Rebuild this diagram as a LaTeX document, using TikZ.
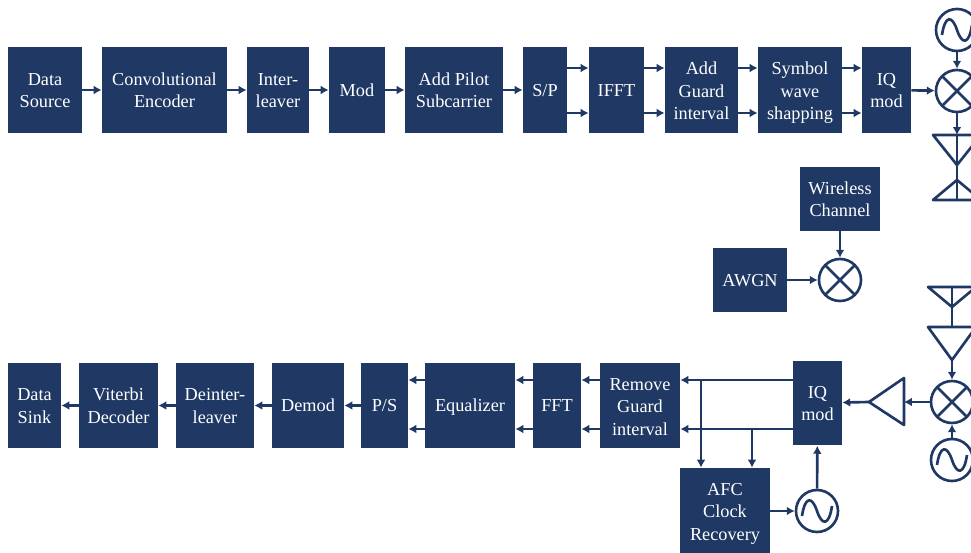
\documentclass[tikz,border=0pt]{standalone}
\usepackage{fontspec}
\setmainfont{Liberation Serif}
\usetikzlibrary{arrows.meta}
\definecolor{navyblock}{HTML}{1F3864}
\begin{document}
\begin{tikzpicture}[x=.02cm,y=-.02cm,font=\fontsize{10.4}{12.8}\selectfont,
  blockbox/.style={fill=navyblock,text=white,align=center,inner sep=0pt,minimum width=#1*.02cm,text height=7.2pt,text depth=0pt},
  twolines/.style={text height=20.4pt},
  threelines/.style={text height=34pt},
  toprow/.style={blockbox=#1,minimum height=1.72cm},
  lowrow/.style={blockbox=#1,minimum height=1.7cm},
  link/.style={draw=navyblock,line width=1.5pt,-{Latex[length=4.5pt,width=5pt]}},
  wire/.style={draw=navyblock,line width=1.5pt},
  mixer/.style={circle,draw=navyblock,line width=1.5pt,inner sep=0pt,minimum size=.84cm,
    path picture={\draw[navyblock,line width=1.5pt] (path picture bounding box.north west)--(path picture bounding box.south east)
      (path picture bounding box.north east)--(path picture bounding box.south west);}},
  osc/.style={circle,draw=navyblock,line width=1.5pt,inner sep=0pt,minimum size=.84cm,
    path picture={\draw[navyblock,line width=1.5pt,shift={(path picture bounding box.center)}]
      (-15,5) .. controls (-12,-15) and (-5,-15) .. (0,0) .. controls (5,15) and (12,15) .. (15,-5);}}]
\useasboundingbox (0,0) rectangle (971,553);
\coordinate (upper) at (0,68);
\coordinate (lower) at (0,113);
\coordinate (rxupper) at (0,380);
\coordinate (rxlower) at (0,429);
\node[toprow=74,twolines] (src) at (45,90) {Data\\Source};
\node[toprow=125,twolines] (enc) at (164.5,90) {Convolutional\\Encoder};
\node[toprow=62,twolines] (intl) at (278,90) {Inter-\\leaver};
\node[toprow=56] (mod) at (357,90) {Mod};
\node[toprow=98,twolines] (pilot) at (454,90) {Add Pilot\\Subcarrier};
\node[toprow=44] (sp) at (545,90) {S/P};
\node[toprow=55] (ifft) at (616.5,90) {IFFT};
\node[toprow=73,threelines] (guard) at (701.5,90) {Add\\Guard\\interval};
\node[toprow=84,threelines] (shape) at (800,90) {Symbol\\wave\\shapping};
\node[toprow=49,twolines] (iqtx) at (886.5,90) {IQ\\mod};
\node[mixer] (mixtx) at (957,91) {};
\node[osc] (osctx) at (957,30) {};
\draw[link] (src)--(enc);
\draw[link] (enc)--(intl);
\draw[link] (intl)--(mod);
\draw[link] (mod)--(pilot);
\draw[link] (pilot)--(sp);
\draw[link] (sp.east |- upper)--(ifft.west |- upper);
\draw[link] (sp.east |- lower)--(ifft.west |- lower);
\draw[link] (ifft.east |- upper)--(guard.west |- upper);
\draw[link] (ifft.east |- lower)--(guard.west |- lower);
\draw[link] (guard.east |- upper)--(shape.west |- upper);
\draw[link] (guard.east |- lower)--(shape.west |- lower);
\draw[link] (shape.east |- upper)--(iqtx.west |- upper);
\draw[link] (shape.east |- lower)--(iqtx.west |- lower);
\draw[link] (iqtx)--(mixtx);
\draw[link] (osctx)--(mixtx);
\coordinate (anttx) at (957,135);
\coordinate (endtx) at (957,200);
\draw[link] (mixtx)--(anttx);
\draw[wire] (anttx)--(endtx);
\draw[wire,line join=round] (933,135)--(981,135)--(957,165)--cycle;
\draw[wire,line join=round] (933,200)--(981,200)--(957,180)--cycle;
\node[blockbox=80,minimum height=1.28cm,twolines] (chan) at (840,199) {Wireless\\Channel};
\node[blockbox=74,minimum height=1.28cm] (awgn) at (750,280) {AWGN};
\node[mixer] (mixch) at (840,280) {};
\draw[link] (chan)--(mixch);
\draw[link] (awgn)--(mixch);
\node[mixer] (mixrx) at (952,402) {};
\node[osc] (oscrx) at (952,460) {};
\coordinate (antrx) at (952,287);
\coordinate (lnarx) at (952,360);
\draw[wire] (antrx)--(952,327);
\draw[wire,line join=round] (928,287)--(976,287)--(952,307)--cycle;
\draw[wire,line join=round] (928,327)--(976,327)--(952,360)--cycle;
\draw[link] (lnarx)--(mixrx);
\draw[link] (oscrx)--(mixrx);
\coordinate (ampin) at (904,402);
\coordinate (ampout) at (869,402);
\draw[wire,line join=round] (904,378)--(904,425)--(869,402)--cycle;
\draw[link] (mixrx)--(ampin);
\node[lowrow=49,twolines] (iqrx) at (817.5,403) {IQ\\mod};
\draw[link] (ampout)--(iqrx);
\node[lowrow=80,threelines] (rmguard) at (640,405.5) {Remove\\Guard\\interval};
\node[lowrow=48] (fft) at (557,405.5) {FFT};
\node[lowrow=90] (eq) at (470,405.5) {Equalizer};
\node[lowrow=47] (ps) at (384.5,405.5) {P/S};
\node[lowrow=72] (demod) at (308,405.5) {Demod};
\node[lowrow=78,twolines] (deintl) at (215,405.5) {Deinter-\\leaver};
\node[lowrow=79,twolines] (vit) at (118.5,405.5) {Viterbi\\Decoder};
\node[lowrow=53,twolines] (sink) at (34.5,405.5) {Data\\Sink};
\node[lowrow=90,threelines] (afc) at (725,510.5) {AFC\\Clock\\Recovery};
\node[osc] (oscafc) at (817,511) {};
\draw[link] (iqrx.west |- rxupper)--(rmguard.east |- rxupper);
\draw[link] (iqrx.west |- rxlower)--(rmguard.east |- rxlower);
\draw[link] (rmguard.west |- rxupper)--(fft.east |- rxupper);
\draw[link] (rmguard.west |- rxlower)--(fft.east |- rxlower);
\draw[link] (fft.west |- rxupper)--(eq.east |- rxupper);
\draw[link] (fft.west |- rxlower)--(eq.east |- rxlower);
\draw[link] (eq.west |- rxupper)--(ps.east |- rxupper);
\draw[link] (eq.west |- rxlower)--(ps.east |- rxlower);
\draw[link] (ps)--(demod);
\draw[link] (demod)--(deintl);
\draw[link] (deintl)--(vit);
\draw[link] (vit)--(sink);
\coordinate (tapa) at (701,380);
\coordinate (tapb) at (752,429);
\draw[link] (tapa)--(tapa |- afc.north);
\draw[link] (tapb)--(tapb |- afc.north);
\draw[link] (afc.east |- oscafc)--(oscafc);
\draw[link] (oscafc)--(iqrx);
\end{tikzpicture}
\end{document}
